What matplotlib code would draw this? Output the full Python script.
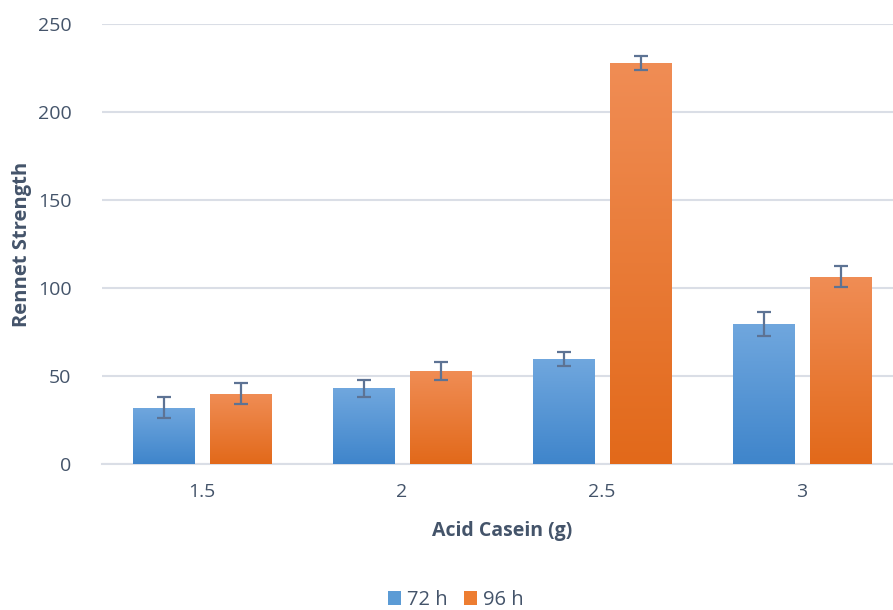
import numpy as np
import matplotlib
matplotlib.use("Agg")
import matplotlib.pyplot as plt
from matplotlib.colors import LinearSegmentedColormap

categories = ["1.5", "2", "2.5", "3"]
series_names = ["72 h", "96 h"]
vals_72 = [32, 43, 59.5, 79.5]
err_72 = [6, 5, 4, 7]
vals_96 = [40, 53, 228, 106.5]
err_96 = [6, 5, 4, 6]

text_col = "#44546a"
plt.rcParams['font.family'] = ['Open Sans', 'DejaVu Sans']

fig = plt.figure(figsize=(8.93, 6.10), dpi=100)
ax = fig.add_axes([102 / 893, 1 - 464 / 610, 800 / 893, 440 / 610])

x = np.arange(len(categories))
w = 0.31
off = 0.1925

grads = [("#70a7de", "#3f85cb"), ("#f08d55", "#e2691a")]
all_vals = [vals_72, vals_96]
all_errs = [err_72, err_96]
solid = ["#5b9bd5", "#ed7d31"]

for k, (vals, errs) in enumerate(zip(all_vals, all_errs)):
    pos = x + (k * 2 - 1) * off
    bars = ax.bar(pos, vals, width=w, color=solid[k], zorder=2, label=series_names[k])
    cmap = LinearSegmentedColormap.from_list("g%d" % k, [grads[k][1], grads[k][0]])
    # vertical gradient fill clipped to each bar
    for b in bars:
        grad = np.linspace(0, 1, 256).reshape(-1, 1)
        im = ax.imshow(grad, cmap=cmap, aspect="auto", origin="lower",
                       extent=[b.get_x(), b.get_x() + b.get_width(), 0, b.get_height()],
                       zorder=3)
        im.set_clip_path(b)
    ax.errorbar(pos, vals, yerr=errs, fmt="none", ecolor="#5d7394",
                elinewidth=1.6, capsize=5, capthick=1.6, zorder=4)

ax.set_xlim(-0.5, 3.5)
ax.set_ylim(0, 250)
ax.set_yticks(range(0, 251, 50))
ax.set_xticks(x)
ax.set_xticklabels(categories)
ax.yaxis.grid(True, color="#dadee6", linewidth=1.5, zorder=0)
ax.set_axisbelow(True)
for s in ["top", "right", "left"]:
    ax.spines[s].set_visible(False)
ax.spines["bottom"].set_color("#dadee6")
ax.spines["bottom"].set_linewidth(1.5)
ax.tick_params(axis="both", length=0, labelsize=14, colors=text_col)
ax.tick_params(axis="x", pad=14)
ax.tick_params(axis="y", pad=22)

fig.text(22 / 893, 1 - 244 / 610, "Rennet Strength", rotation=90, ha="center", va="center",
         fontsize=14.5, fontweight="bold", color=text_col)
fig.text(502 / 893, 1 - 531 / 610, "Acid Casein (g)", ha="center", va="center",
         fontsize=14, fontweight="bold", color=text_col)

leg = fig.legend(loc="center", bbox_to_anchor=(456 / 893, 1 - 600 / 610), ncol=2,
                 frameon=False, fontsize=14.5, handlelength=0.65, handleheight=0.65,
                 handletextpad=0.3, columnspacing=0.8, labelcolor=text_col)

fig.savefig("out.png", dpi=100)
